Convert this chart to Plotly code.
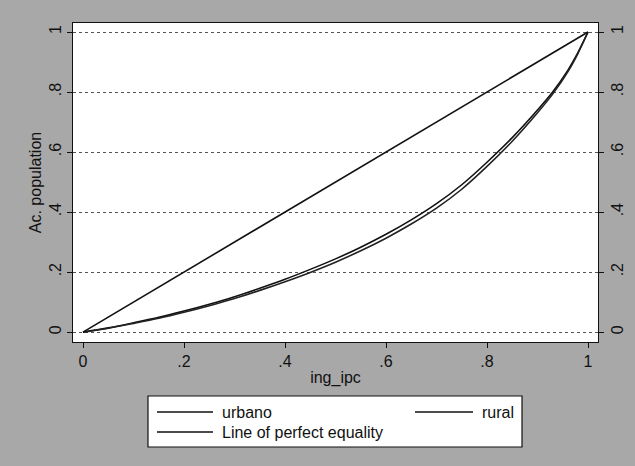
import plotly.graph_objects as go

# ---- data ----
share_x = [0, 0.05, 0.1, 0.15, 0.2, 0.25, 0.3, 0.35, 0.4, 0.45, 0.5, 0.55, 0.6,
           0.65, 0.7, 0.75, 0.8, 0.85, 0.9, 0.93, 0.96, 0.98, 0.99, 1.0]
urbano_y = [0, 0.014, 0.031, 0.049, 0.070, 0.093, 0.118, 0.146, 0.176, 0.209, 0.244,
            0.283, 0.326, 0.374, 0.428, 0.491, 0.566, 0.648, 0.740, 0.800, 0.872,
            0.931, 0.965, 1.0]
rural_y = [0, 0.013, 0.029, 0.046, 0.066, 0.088, 0.112, 0.139, 0.168, 0.199, 0.233,
           0.271, 0.313, 0.360, 0.413, 0.476, 0.552, 0.636, 0.731, 0.793, 0.867,
           0.928, 0.964, 1.0]
equality_x = [0, 1]
equality_y = [0, 1]

tick_vals = [0, 0.2, 0.4, 0.6, 0.8, 1]
tick_text = ["0", ".2", ".4", ".6", ".8", "1"]

series_names = ["urbano", "rural", "Line of perfect equality"]

FONT = "Liberation Sans, Arial, sans-serif"
INK = "#111111"

fig = go.Figure()
fig.add_trace(go.Scatter(x=share_x, y=urbano_y, mode="lines", name=series_names[0],
                         line=dict(color=INK, width=1.6, shape="spline", smoothing=0.8)))
fig.add_trace(go.Scatter(x=share_x, y=rural_y, mode="lines", name=series_names[1],
                         line=dict(color="#222222", width=1.6, shape="spline", smoothing=0.8)))
fig.add_trace(go.Scatter(x=equality_x, y=equality_y, mode="lines", name=series_names[2],
                         line=dict(color=INK, width=1.6)))
# invisible trace so that the mirrored right axis is drawn
fig.add_trace(go.Scatter(x=equality_x, y=equality_y, mode="lines", yaxis="y2",
                         line=dict(color="rgba(0,0,0,0)"), hoverinfo="skip", showlegend=False))

axis_common = dict(
    tickvals=tick_vals, ticktext=tick_text, ticks="outside", ticklen=5, tickwidth=1,
    tickcolor=INK, showline=True, linecolor=INK, linewidth=1.2, zeroline=False,
    automargin=False,
    tickfont=dict(family=FONT, size=16, color=INK),
)

fig.update_layout(
    width=635, height=466,
    margin=dict(l=73, r=37, t=23, b=124),
    paper_bgcolor="#a8a8a8",
    plot_bgcolor="white",
    showlegend=False,
    font=dict(family=FONT, size=16, color=INK),
    xaxis=dict(range=[-0.0198, 1.0198], showgrid=False, mirror=True,
               title=dict(text="ing_ipc", font=dict(family=FONT, size=16, color=INK), standoff=2),
               **axis_common),
    yaxis=dict(range=[-0.033, 1.03], showgrid=True, gridcolor="#555555", griddash="dot",
               gridwidth=1, tickangle=-90,
               title=dict(text="Ac. population", font=dict(family=FONT, size=16, color=INK), standoff=0),
               **axis_common),
    yaxis2=dict(range=[-0.033, 1.03], overlaying="y", side="right", anchor="x",
                showgrid=False, tickangle=-90, **axis_common),
)

# ---- Stata-style legend box below the plot ----
def px_x(p):
    return (p - 73) / 525.0

def px_y(p):
    return (342 - p) / 319.0

fig.add_shape(type="rect", xref="paper", yref="paper",
              x0=px_x(148), x1=px_x(522), y0=px_y(447), y1=px_y(396),
              line=dict(color=INK, width=1.2), fillcolor="white", layer="above")

legend_items = [
    (series_names[0], 157, 213, 220, 412),
    (series_names[1], 415, 473, 480, 412),
    (series_names[2], 157, 213, 220, 432),
]
for name, lx0, lx1, tx, ty in legend_items:
    fig.add_shape(type="line", xref="paper", yref="paper",
                  x0=px_x(lx0), x1=px_x(lx1), y0=px_y(ty), y1=px_y(ty),
                  line=dict(color=INK, width=1.4))
    fig.add_annotation(text=name, xref="paper", yref="paper", x=px_x(tx), y=px_y(ty),
                       xanchor="left", yanchor="middle", showarrow=False,
                       font=dict(family=FONT, size=16, color=INK))

fig.write_html("out.html", config={"displayModeBar": False},
               post_script="document.body.style.margin='0';document.body.style.background='#a8a8a8';")
